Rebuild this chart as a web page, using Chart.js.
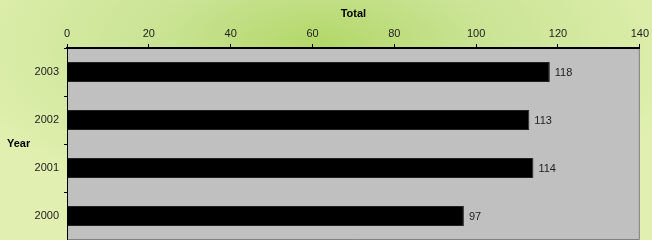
<!DOCTYPE html>
<html>
<head>
<meta charset="utf-8">
<script src="https://cdn.jsdelivr.net/npm/chart.js@4"></script>
<style>
  html, body { margin: 0; padding: 0; }
  #wrap { width: 652px; height: 240px; }
</style>
</head>
<body>
<div id="wrap"><canvas id="myChart" width="652" height="240"></canvas></div>
<script>
// chart values
const years = ["2003", "2002", "2001", "2000"];
const totals = [118, 113, 114, 97];
const xTicks = [0, 20, 40, 60, 80, 100, 120, 140];

const FONT = "'Liberation Sans', Arial, sans-serif";

// green backdrop + grey plot area
const backdrop = {
  id: 'backdrop',
  beforeDraw(chart) {
    const { ctx, chartArea: a } = chart;
    ctx.save();
    ctx.translate(320, 45);
    ctx.scale(2.3, 1);
    const g = ctx.createRadialGradient(0, 0, 0, 0, 0, 170);
    g.addColorStop(0, '#b2d768');
    g.addColorStop(0.4, '#c9e393');
    g.addColorStop(1, '#e1f0b0');
    ctx.fillStyle = g;
    ctx.fillRect(-400, -200, 800, 500);
    ctx.restore();

    ctx.save();
    ctx.fillStyle = '#c0c0c0';
    ctx.fillRect(a.left, a.top, a.right - a.left, a.bottom - a.top);
    ctx.strokeStyle = '#808080';
    ctx.lineWidth = 1;
    ctx.beginPath();
    ctx.moveTo(a.left, a.bottom - 0.5);
    ctx.lineTo(a.right - 0.5, a.bottom - 0.5);
    ctx.lineTo(a.right - 0.5, a.top);
    ctx.stroke();
    ctx.restore();
  }
};

// labels at the end of bars + horizontal "Year" title
const extras = {
  id: 'extras',
  afterDatasetsDraw(chart) {
    const { ctx } = chart;
    const meta = chart.getDatasetMeta(0);
    ctx.save();
    ctx.font = '11px ' + FONT;
    ctx.fillStyle = '#222';
    ctx.textBaseline = 'middle';
    ctx.textAlign = 'left';
    meta.data.forEach((bar, i) => {
      ctx.fillText(String(totals[i]), bar.x + 5, bar.y + 1);
    });
    ctx.font = 'bold 11px ' + FONT;
    ctx.fillStyle = '#000';
    ctx.fillText('Year', 7, 144);
    ctx.restore();
  }
};

new Chart(document.getElementById('myChart'), {
  type: 'bar',
  data: {
    labels: years,
    datasets: [{
      data: totals,
      backgroundColor: '#000',
      borderColor: '#222',
      borderWidth: 1,
      borderSkipped: 'start',
      barPercentage: 0.42,
      categoryPercentage: 1
    }]
  },
  options: {
    indexAxis: 'y',
    responsive: false,
    animation: false,
    layout: { padding: { left: 0, right: 10, top: 0, bottom: 0 } },
    plugins: {
      legend: { display: false },
      tooltip: { enabled: false }
    },
    scales: {
      x: {
        position: 'top',
        min: 0,
        max: 140,
        afterBuildTicks: (s) => { s.ticks = xTicks.map(v => ({ value: v })); },
        afterFit: (s) => { s.height = 48; },
        ticks: {
          color: '#222',
          padding: 3,
          maxRotation: 0,
          font: { size: 11, family: FONT }
        },
        grid: {
          drawOnChartArea: false,
          tickLength: 4,
          tickColor: '#000',
          tickWidth: 1
        },
        border: { color: '#000', width: 2 },
        title: {
          display: true,
          text: 'Total',
          color: '#000',
          padding: { top: 7, bottom: 0 },
          font: { size: 11, weight: 'bold', family: FONT }
        }
      },
      y: {
        afterFit: (s) => { s.width = 67; s.paddingTop = 0; s.paddingBottom = 0; },
        ticks: {
          color: '#222',
          padding: 5,
          font: { size: 11, family: FONT }
        },
        grid: {
          drawOnChartArea: false,
          offset: true,
          tickLength: 3,
          tickColor: '#000',
          tickWidth: 1
        },
        border: { color: '#000', width: 1 }
      }
    }
  },
  plugins: [backdrop, extras]
});
</script>
</body>
</html>
